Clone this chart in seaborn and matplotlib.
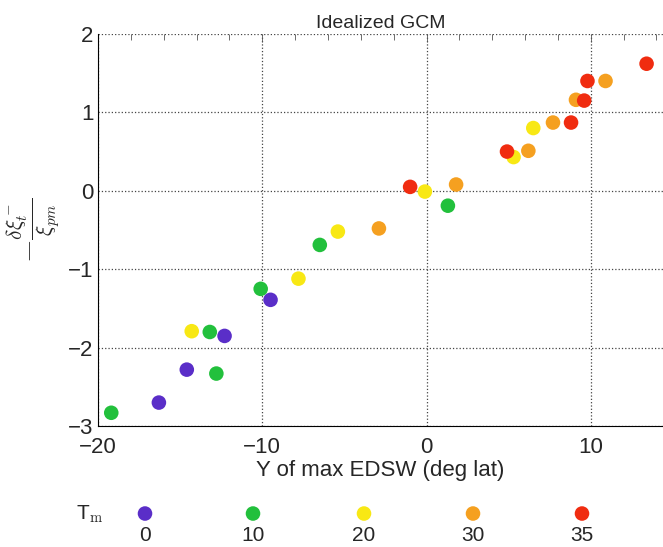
import matplotlib
matplotlib.use("Agg")
import matplotlib.pyplot as plt
import seaborn as sns
import pandas as pd
from matplotlib.ticker import MultipleLocator

# Data (x = latitude of max EDSW, y = normalized term)
tm_levels = [0, 10, 20, 30, 35]
tm_colors = ["#5a2ec8", "#22c03c", "#f8e814", "#f5a020", "#f02c10"]

x_tm0 = [-16.3, -14.6, -12.3, -9.5]
y_tm0 = [-2.70, -2.28, -1.85, -1.39]
x_tm10 = [-19.2, -12.8, -13.2, -10.1, -6.5, 1.3]
y_tm10 = [-2.83, -2.33, -1.80, -1.25, -0.69, -0.19]
x_tm20 = [-14.3, -7.8, -5.4, -0.1, 5.3, 6.5]
y_tm20 = [-1.79, -1.12, -0.52, -0.01, 0.43, 0.80]
x_tm30 = [-2.9, 1.8, 6.2, 7.7, 9.1, 10.9]
y_tm30 = [-0.48, 0.08, 0.51, 0.87, 1.16, 1.40]
x_tm35 = [-1.0, 4.9, 8.8, 9.6, 9.8, 13.4]
y_tm35 = [0.05, 0.50, 0.87, 1.15, 1.40, 1.62]

xs = [x_tm0, x_tm10, x_tm20, x_tm30, x_tm35]
ys = [y_tm0, y_tm10, y_tm20, y_tm30, y_tm35]
df = pd.concat(
    [pd.DataFrame({"x": x, "y": y, "Tm": t}) for x, y, t in zip(xs, ys, tm_levels)],
    ignore_index=True,
)
palette = dict(zip(tm_levels, tm_colors))

sns.set_style("white")
plt.rcParams["font.family"] = ["Liberation Sans", "DejaVu Sans"]
plt.rcParams["mathtext.fontset"] = "cm"

fig = plt.figure(figsize=(6.63, 5.47), dpi=100)
ax = fig.add_axes([0.148, 0.221, 0.852, 0.717])

sns.scatterplot(data=df, x="x", y="y", hue="Tm", palette=palette, s=110,
                edgecolor="none", legend=False, ax=ax, zorder=3)

ax.set_xlim(-20, 14.4)
ax.set_ylim(-3, 2)
ax.xaxis.set_minor_locator(MultipleLocator(2))
ax.yaxis.set_minor_locator(MultipleLocator(0.25))
ax.tick_params(which="both", direction="in", top=True, right=False,
               labelsize=16, length=4, width=0.6, color="#555555")
ax.tick_params(which="major", length=6)
ax.tick_params(axis="x", pad=8)
ax.set_xticks([-20, -10, 0, 10])
ax.set_xticklabels(["\u221220", "\u221210", "0", "10"])
ax.set_yticks([-3, -2, -1, 0, 1, 2])
ax.set_yticklabels(["\u22123", "\u22122", "\u22121", "0", "1", "2"])
ax.grid(True, which="major", linestyle=":", color="#444444", linewidth=0.9)
for side in ["top", "right"]:
    ax.spines[side].set_visible(False)
for side in ["left", "bottom"]:
    ax.spines[side].set_color("black")
    ax.spines[side].set_linewidth(0.8)

ax.set_title("Idealized GCM", fontsize=14, pad=4)
ax.set_xlabel("Y of max EDSW (deg lat)", fontsize=16, labelpad=1)
ax.set_ylabel(r"$-\frac{\delta\xi_t^-}{\xi_{pm}}$", fontsize=22, labelpad=4)

# Legend strip at the bottom
lax = fig.add_axes([0.0, 0.0, 1.0, 0.09])
lax.set_xlim(0, 663)
lax.set_ylim(0, 1)
lax.axis("off")
leg_x = [145, 253, 364, 473, 582]
leg_df = pd.DataFrame({"x": leg_x, "y": [0.68] * 5, "Tm": tm_levels})
sns.scatterplot(data=leg_df, x="x", y="y", hue="Tm", palette=palette, s=110,
                edgecolor="none", legend=False, ax=lax)
lax.set_xlabel("")
lax.set_ylabel("")
for xp, t in zip(leg_x, tm_levels):
    lax.text(xp, 0.05, str(t), ha="center", va="bottom", fontsize=15)
lax.text(90, 0.66, r"T$_{\rm m}$", ha="center", va="center", fontsize=15)

fig.savefig("out.png", dpi=100)
